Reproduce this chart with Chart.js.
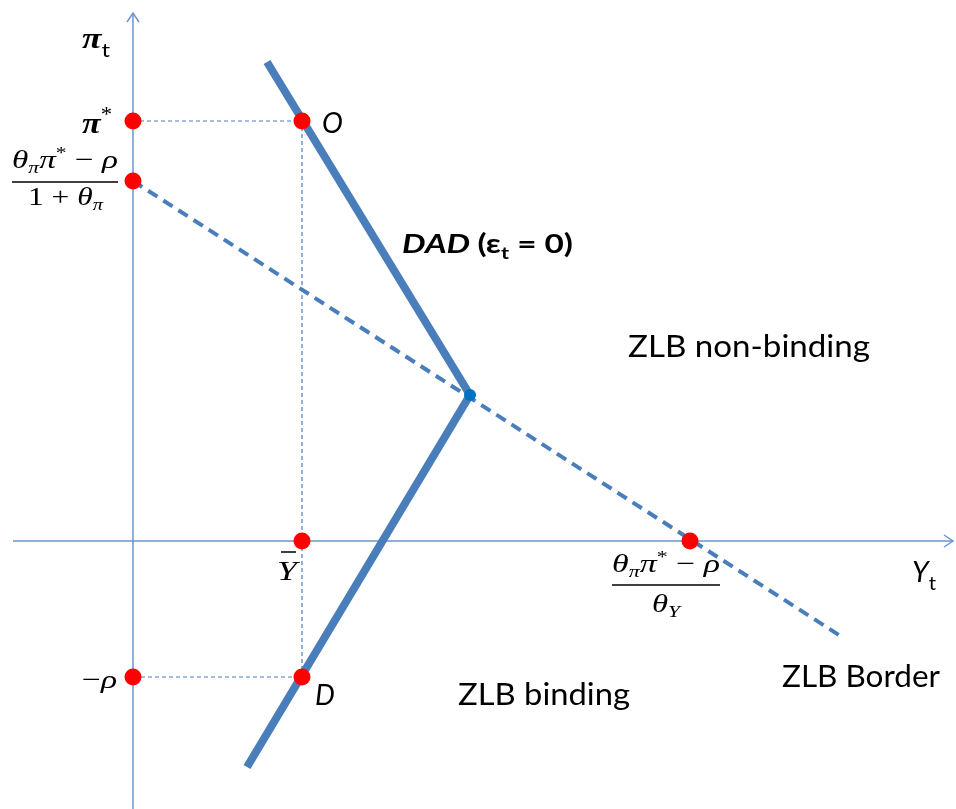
<!DOCTYPE html>
<html>
<head>
<meta charset="utf-8">
<script src="https://cdn.jsdelivr.net/npm/chart.js@4/dist/chart.umd.min.js"></script>
<style>
  html, body { margin: 0; padding: 0; background: #fff; }
  #wrap { width: 956px; height: 809px; }
</style>
</head>
<body>
<div id="wrap"><canvas id="dadChart" width="956" height="809"></canvas></div>
<script>
// DAD curve: top end, kink on ZLB border, bottom end
const dadX = [1.34, 3.37, 1.14];
const dadY = [4.79, 1.46, -2.26];
// ZLB border (dashed)
const borderX = [0, 7.09];
const borderY = [3.60, -0.96];
// dashed guides pi* -> O -> Ybar -> D -> -rho
const guideX = [0, 1.69, 1.69, 0];
const guideY = [4.20, 4.20, -1.36, -1.36];
// red marks
const markX = [0, 1.69, 0, 1.69, 5.57, 0, 1.69];
const markY = [4.20, 4.20, 3.60, 0, 0, -1.36, -1.36];
// kink point
const kinkX = [3.37];
const kinkY = [1.46];
// axes
const xAxisX = [-1.20, 8.20];
const xAxisY = [0, 0];
const yAxisX = [0, 0];
const yAxisY = [-2.70, 5.28];

const pts = (xs, ys) => xs.map((x, i) => ({ x, y: ys[i] }));

const BLUE = '#4a7ebb';
const AXIS = '#6895d2';
const SERIF = '"Liberation Serif", serif';
const SANS = 'Lato, "Open Sans", sans-serif';

function run(ctx, x, y, parts, width) {
  let total = 0;
  parts.forEach(p => { ctx.font = p.f; total += ctx.measureText(p.t).width; });
  const sx = width ? width / total : 1;
  ctx.save();
  ctx.translate(x, y);
  ctx.scale(sx, 1);
  let cx = 0;
  parts.forEach(p => {
    ctx.font = p.f;
    ctx.fillText(p.t, cx, p.dy || 0);
    cx += ctx.measureText(p.t).width;
  });
  ctx.restore();
}

function hline(ctx, x1, x2, y, w) {
  ctx.beginPath();
  ctx.moveTo(x1, y);
  ctx.lineTo(x2, y);
  ctx.lineWidth = w;
  ctx.strokeStyle = '#000';
  ctx.stroke();
}

const labels = {
  id: 'labels',
  afterDatasetsDraw(chart) {
    const ctx = chart.ctx;
    const xs = chart.scales.x, ys = chart.scales.y;
    const ox = xs.getPixelForValue(0), oy = ys.getPixelForValue(0);

    // arrowheads
    ctx.save();
    ctx.strokeStyle = AXIS;
    ctx.lineWidth = 1.5;
    const tx = xs.getPixelForValue(xAxisX[1]);
    ctx.beginPath();
    ctx.moveTo(tx - 9, oy - 6); ctx.lineTo(tx, oy); ctx.lineTo(tx - 9, oy + 6);
    ctx.stroke();
    const ty = ys.getPixelForValue(yAxisY[1]);
    ctx.beginPath();
    ctx.moveTo(ox - 6, ty + 9); ctx.lineTo(ox, ty); ctx.lineTo(ox + 6, ty + 9);
    ctx.stroke();
    ctx.restore();

    ctx.save();
    ctx.fillStyle = '#000';
    ctx.textBaseline = 'alphabetic';
    const big = 'italic 26px ' + SERIF, sub = 'italic 17px ' + SERIF;

    // pi_t
    run(ctx, ox - 51, oy - 493, [
      { t: 'π', f: 'italic bold 30px ' + SERIF },
      { t: 't', f: '20px ' + SANS, dy: 9 }
    ], 28);
    // pi*
    run(ctx, ox - 51, oy - 408, [
      { t: 'π', f: 'italic bold 30px ' + SERIF },
      { t: '*', f: '20px ' + SERIF, dy: -12 }
    ], 30);
    // left fraction
    run(ctx, ox - 121, oy - 373, [
      { t: 'θ', f: big }, { t: 'π', f: sub, dy: 5 }, { t: 'π', f: big },
      { t: '*', f: '17px ' + SERIF, dy: -10 }, { t: ' − ', f: '26px ' + SERIF }, { t: 'ρ', f: big }
    ], 106);
    hline(ctx, ox - 121, ox - 15, oy - 359, 1.5);
    run(ctx, ox - 105, oy - 336, [
      { t: '1 + ', f: '26px ' + SERIF }, { t: 'θ', f: big }, { t: 'π', f: sub, dy: 5 }
    ], 75);

    // O and D
    ctx.font = 'italic 28px ' + SANS;
    ctx.fillText('O', ox + 189, oy - 408);
    ctx.fillText('D', ox + 182, oy + 164);

    // DAD label
    run(ctx, ox + 269, oy - 288, [
      { t: 'DAD ', f: 'italic bold 26px ' + SANS },
      { t: '(ε', f: 'bold 26px ' + SANS },
      { t: 't', f: 'bold 17px ' + SANS, dy: 6 },
      { t: ' = 0)', f: 'bold 26px ' + SANS }
    ], 171);

    // region labels
    const reg = '30px ' + SANS;
    run(ctx, ox + 495, oy - 184, [{ t: 'ZLB non-binding', f: reg }], 242);
    run(ctx, ox + 325, oy + 164, [{ t: 'ZLB binding', f: reg }], 172);
    run(ctx, ox + 649, oy + 146, [{ t: 'ZLB Border', f: reg }], 158);

    // Y bar
    run(ctx, ox + 144, oy + 39, [{ t: 'Y', f: 'italic 28px ' + SERIF }], 20);
    hline(ctx, ox + 148, ox + 163, oy + 11, 1.5);

    // right fraction
    run(ctx, ox + 479, oy + 31, [
      { t: 'θ', f: big }, { t: 'π', f: sub, dy: 5 }, { t: 'π', f: big },
      { t: '*', f: '17px ' + SERIF, dy: -10 }, { t: ' − ', f: '26px ' + SERIF }, { t: 'ρ', f: big }
    ], 108);
    hline(ctx, ox + 479, ox + 587, oy + 44, 1.5);
    run(ctx, ox + 519, oy + 71, [
      { t: 'θ', f: big }, { t: 'Y', f: sub, dy: 5 }
    ], 28);

    // Y_t
    run(ctx, ox + 779, oy + 41, [
      { t: 'Y', f: 'italic 28px ' + SANS },
      { t: 't', f: '20px ' + SANS, dy: 8 }
    ], 24);

    // -rho
    run(ctx, ox - 51, oy + 147, [
      { t: '−', f: '26px ' + SERIF }, { t: 'ρ', f: big }
    ], 35);
    ctx.restore();
  }
};

new Chart(document.getElementById('dadChart'), {
  type: 'scatter',
  data: {
    datasets: [
      { data: pts(markX, markY), pointRadius: 8.5, pointBackgroundColor: '#ff0000',
        pointBorderWidth: 0, showLine: false, order: 0 },
      { data: pts(kinkX, kinkY), pointRadius: 6, pointBackgroundColor: '#0070c0',
        pointBorderWidth: 0, showLine: false, order: 1 },
      { data: pts(dadX, dadY), showLine: true, borderColor: BLUE, borderWidth: 8,
        borderCapStyle: 'butt', borderJoinStyle: 'bevel', pointRadius: 0, order: 2 },
      { data: pts(borderX, borderY), showLine: true, borderColor: BLUE, borderWidth: 4,
        borderDash: [11, 7], pointRadius: 0, order: 3 },
      { data: pts(guideX, guideY), showLine: true, borderColor: BLUE, borderWidth: 1.2,
        borderDash: [4, 3], pointRadius: 0, order: 4 },
      { data: pts(xAxisX, xAxisY), showLine: true, borderColor: AXIS, borderWidth: 1.5,
        pointRadius: 0, order: 5 },
      { data: pts(yAxisX, yAxisY), showLine: true, borderColor: AXIS, borderWidth: 1.5,
        pointRadius: 0, order: 5 }
    ]
  },
  options: {
    responsive: false,
    animation: false,
    layout: { padding: 0, autoPadding: false },
    plugins: { legend: { display: false }, tooltip: { enabled: false } },
    scales: {
      x: { type: 'linear', min: -1.33, max: 8.23, display: false },
      y: { type: 'linear', min: -2.68, max: 5.41, display: false }
    }
  },
  plugins: [labels]
});
</script>
</body>
</html>
